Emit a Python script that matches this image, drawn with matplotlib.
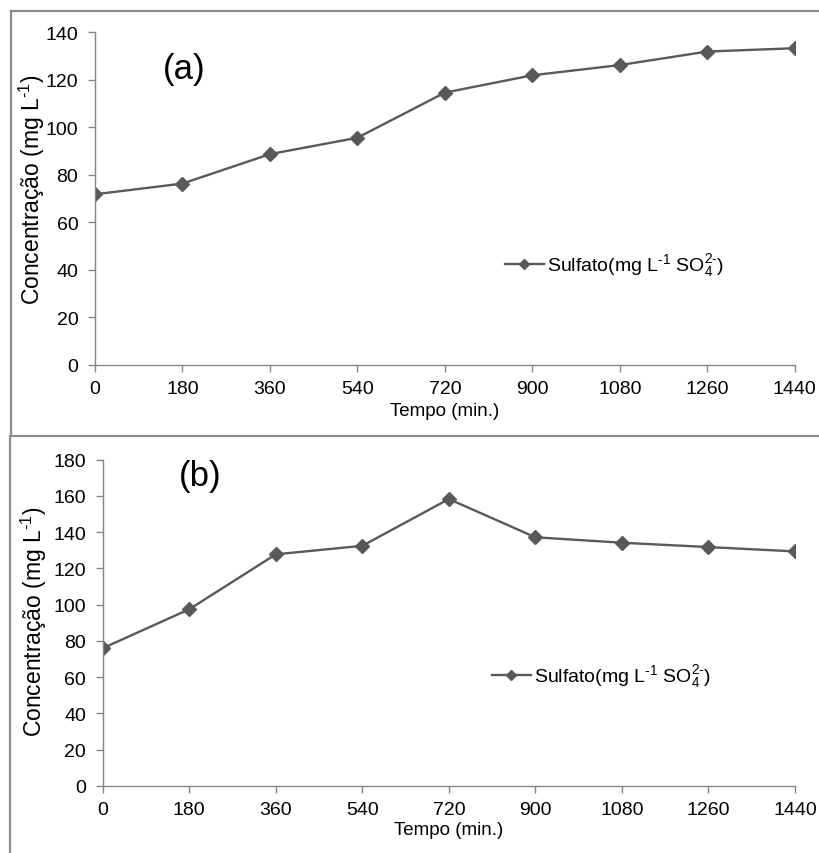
import matplotlib
matplotlib.use("Agg")
import matplotlib.pyplot as plt
from matplotlib.lines import Line2D

plt.rcParams["font.family"] = ["Liberation Sans", "DejaVu Sans"]
plt.rcParams["mathtext.fontset"] = "custom"
plt.rcParams["mathtext.rm"] = "Liberation Sans"

# Sampling times (min)
tempo = [0, 180, 360, 540, 720, 900, 1080, 1260, 1440]
xticks = [0, 180, 360, 540, 720, 900, 1080, 1260, 1440]

# Sulfate concentration (mg L-1), experiment (a) and (b)
sulfato_a = [71.8, 76.3, 88.7, 95.6, 114.6, 121.9, 126.2, 131.9, 133.3]
sulfato_b = [76.0, 97.5, 127.8, 132.5, 158.3, 137.2, 134.2, 131.8, 129.4]

yticks_a = [0, 20, 40, 60, 80, 100, 120, 140]
yticks_b = [0, 20, 40, 60, 80, 100, 120, 140, 160, 180]

W, H = 819, 854
fig = plt.figure(figsize=(W / 100, H / 100), dpi=100)

line_col = "#595959"
axis_col = "#868686"
tick_fs = 14
legend_label = r"Sulfato(mg L$\mathregular{^{\text{-}1}}$ SO$\mathregular{_4^{2\text{-}}}$)"
ylabel_txt = r"Concentração (mg L$\mathregular{^{\text{-}1}}$)"


def px_rect(x0, y0, x1, y1):
    return [x0 / W, 1 - y1 / H, (x1 - x0) / W, (y1 - y0) / H]


def panel(rect, values, yticks, tag, tag_xy, leg_xy, ylab_pos, xlab_top):
    x0, y0, x1, y1 = rect
    ax = fig.add_axes(px_rect(*rect))
    ax.plot(tempo, values, color=line_col, lw=1.7, marker="D", ms=7,
            mfc=line_col, mec=line_col, label=legend_label)
    ax.set_xlim(0, 1440)
    ax.set_ylim(yticks[0], yticks[-1])
    ax.set_xticks(xticks)
    ax.set_yticks(yticks)
    for s in ("top", "right"):
        ax.spines[s].set_visible(False)
    for s in ("left", "bottom"):
        ax.spines[s].set_color(axis_col)
        ax.spines[s].set_linewidth(1.0)
    ax.tick_params(axis="both", direction="out", length=5, width=1.0,
                   color=axis_col, labelsize=tick_fs, labelcolor="black")
    ax.tick_params(axis="x", pad=6)
    ax.tick_params(axis="y", pad=7)
    ax.set_xlabel("Tempo (min.)", fontsize=13.5)
    ax.set_ylabel(ylabel_txt, fontsize=16.5)
    ax.yaxis.set_label_coords((ylab_pos[0] - x0) / (x1 - x0),
                              (y1 - ylab_pos[1]) / (y1 - y0))
    ax.xaxis.set_label_coords(0.5, (y1 - xlab_top) / (y1 - y0))
    fig.text(tag_xy[0] / W, 1 - tag_xy[1] / H, tag, fontsize=25,
             ha="center", va="center")
    ax.legend(loc="center left", bbox_to_anchor=(leg_xy[0] / W, 1 - leg_xy[1] / H),
              bbox_transform=fig.transFigure, frameon=False, fontsize=14,
              handlelength=2.0, handletextpad=0.15, borderpad=0, borderaxespad=0,
              markerscale=0.8)
    return ax


panel((95, 33.3, 794.7, 365.8), sulfato_a, yticks_a, "(a)", (184, 70),
      (505, 266), (47, 190), 403)
panel((102.7, 460.7, 795, 787), sulfato_b, yticks_b, "(b)", (200, 477),
      (492, 677), (49, 622), 822)

# Chart-area frame lines
frame_col = "#8c8c8c"
for xs, ys in [((11, W), (12, 12)), ((11, 11), (12, 437)),
               ((11, W), (437, 437)), ((10, 10), (437, H))]:
    fig.add_artist(Line2D([x / W for x in xs], [1 - y / H for y in ys],
                          color=frame_col, lw=1.6, transform=fig.transFigure))

fig.savefig("out.png", dpi=100)
